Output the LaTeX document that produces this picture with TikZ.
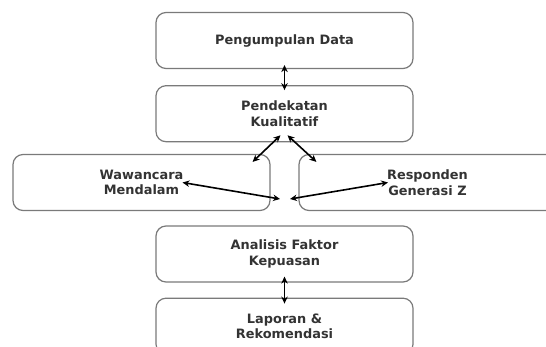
\documentclass[tikz,border=0pt]{standalone}
\usepackage{fontspec}
\setmainfont{DejaVu Sans}
\usepackage{tikz}
\usepackage{xcolor}
\usetikzlibrary{arrows.meta, positioning}

\definecolor{boxline}{HTML}{7A7A7A}
\definecolor{boxtext}{HTML}{333333}

\tikzset{
  stage/.style={draw=boxline, line width=1.2pt, rounded corners=10pt,
    minimum width=257pt, minimum height=56pt, align=center,
    text=boxtext, font=\fontsize{12.9}{15.5}\selectfont\bfseries},
  link/.style={{Stealth[length=7pt,width=6.5pt]}-{Stealth[length=7pt,width=6.5pt]},
    line width=1.6pt, black}
}

\begin{document}
\begin{tikzpicture}[x=1pt, y=1pt]
\useasboundingbox (0,0) rectangle (546,-347);
\clip (0,0) rectangle (546,-347);

\node[stage] (data) at (284.5,-40.5) {Pengumpulan Data};
\node[stage, below=16pt of data] (kual) {Pendekatan\\Kualitatif};
\node[stage] (waw) at (141.5,-182.5) {Wawancara\\Mendalam};
\node[stage] (resp) at (427.5,-182.5) {Responden\\Generasi Z};
\node[stage] (ana) at (284.5,-254) {Analisis Faktor\\Kepuasan};
\node[stage, below=15pt of ana] (lap) {Laporan \&\\Rekomendasi};
\coordinate (hub) at (285,-199);

\draw[link] ([yshift=4pt]data.south) -- ([yshift=-5pt]kual.north);
\draw[link] ([shift={(-4pt,7pt)}]kual.south) -- ([shift={(-18pt,-8pt)}]waw.north east);
\draw[link] ([shift={(3pt,7pt)}]kual.south) -- ([shift={(18pt,-8pt)}]resp.north west);
\draw[link] ([xshift=41pt]waw.center) -- ([xshift=-5pt]hub);
\draw[link] ([xshift=5pt]hub) -- ([xshift=-39.5pt]resp.center);
\draw[link] ([yshift=6pt]ana.south) -- ([yshift=-6pt]lap.north);
\end{tikzpicture}
\end{document}
